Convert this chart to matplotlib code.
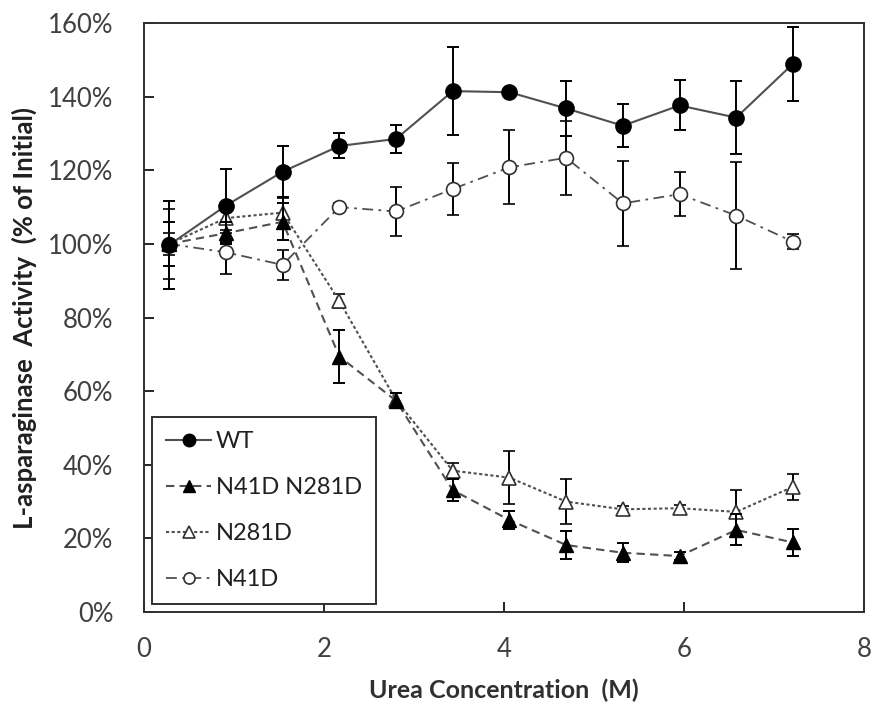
import numpy as np
import matplotlib
matplotlib.use('Agg')
import matplotlib.pyplot as plt
from matplotlib.lines import Line2D
from matplotlib.ticker import PercentFormatter

# urea concentration (M)
urea = [0.28, 0.91, 1.54, 2.17, 2.80, 3.43, 4.06, 4.69, 5.32, 5.95, 6.58, 7.21]

# activity, % of initial, and error bars
wt = [99.7, 110.4, 119.6, 126.6, 128.5, 141.5, 141.2, 136.8, 132.1, 137.6, 134.3, 148.9]
wt_err = [12, 10, 7, 3.4, 3.7, 12, 1, 7.5, 5.8, 6.8, 10, 10]

dbl = [100, 102.9, 106.0, 69.4, 57.4, 33.1, 25.0, 18.2, 16.1, 15.2, 22.3, 18.9]
dbl_err = [6, 3, 5, 7.2, 2, 3, 2.5, 3.7, 2.6, 1, 4.2, 3.6]

n281 = [100, 107.0, 108.5, 84.5, 57.6, 38.4, 36.5, 30.0, 27.9, 28.2, 27.2, 34.0]
n281_err = [3, 4, 4, 2, 2, 2.2, 7.2, 6, 1, 1, 6, 3.5]

n41 = [100, 97.7, 94.3, 110.0, 108.8, 114.9, 120.8, 123.4, 111.0, 113.5, 107.7, 100.6]
n41_err = [9.5, 6, 4, 1, 6.7, 7, 10, 10, 11.5, 6, 14.6, 2]

plt.rcParams['font.family'] = ['Lato', 'DejaVu Sans']

fig = plt.figure(figsize=(8.76, 7.10), dpi=100)
ax = fig.add_axes([0.1644, 0.138, 0.8219, 0.8296])

lc = '#505050'
ebkw = dict(ecolor='black', elinewidth=1.4, capsize=4, capthick=1.4)

# line style + marker settings per series
st_wt = dict(color=lc, ls='-', lw=1.5, marker='o', ms=11, mfc='black', mec='black')
st_dbl = dict(color=lc, ls=(0, (4, 2.5)), lw=1.5, marker='^', ms=10, mfc='black', mec='black')
st_281 = dict(color=lc, ls=(0, (1.5, 1.2)), lw=1.5, marker='^', ms=9.5, mfc='white', mec='#303030', mew=1.2)
st_41 = dict(color=lc, ls=(0, (6, 3, 1.5, 3)), lw=1.3, marker='o', ms=10, mfc='white', mec='#303030', mew=1.2)

ax.errorbar(urea, n41, yerr=n41_err, zorder=3, **st_41, **ebkw)
ax.errorbar(urea, n281, yerr=n281_err, zorder=4, **st_281, **ebkw)
ax.errorbar(urea, dbl, yerr=dbl_err, zorder=5, **st_dbl, **ebkw)
ax.errorbar(urea, wt, yerr=wt_err, zorder=6, **st_wt, **ebkw)

ax.set_xlim(0, 8)
ax.set_ylim(0, 160)
ax.set_xticks([0, 2, 4, 6, 8])
ax.set_yticks(np.arange(0, 161, 20))
ax.yaxis.set_major_formatter(PercentFormatter(decimals=0))
ax.tick_params(direction='in', length=7, width=1.2, labelsize=18.5, labelcolor='#404040', pad=22)
ax.tick_params(axis='x', pad=18)
for s in ax.spines.values():
    s.set_linewidth(1.4)
    s.set_color('#303030')

ax.set_xlabel('Urea Concentration  (M)', fontsize=18, fontweight='bold', color='#303030', labelpad=12)
ax.set_ylabel('L-asparaginase  Activity  (% of Initial)', fontsize=18.5, fontweight='bold',
              color='#202020', labelpad=8)

handles = [Line2D([], [], **dict(st_wt, ms=9)),
           Line2D([], [], **dict(st_dbl, ms=8)),
           Line2D([], [], **dict(st_281, ms=8)),
           Line2D([], [], **dict(st_41, ms=8))]
labels = ['WT', 'N41D N281D', 'N281D', 'N41D']
leg = ax.legend(handles, labels, loc='lower left',
                bbox_to_anchor=(0.011, 0.0136), borderaxespad=0, fontsize=17,
                handlelength=1.9, handletextpad=0.2, labelspacing=1.05,
                fancybox=False, framealpha=1, edgecolor='#303030', borderpad=0.6)
leg.get_frame().set_linewidth(1.4)
for t in leg.get_texts():
    t.set_color('#202020')

fig.savefig('out.png', dpi=100)
